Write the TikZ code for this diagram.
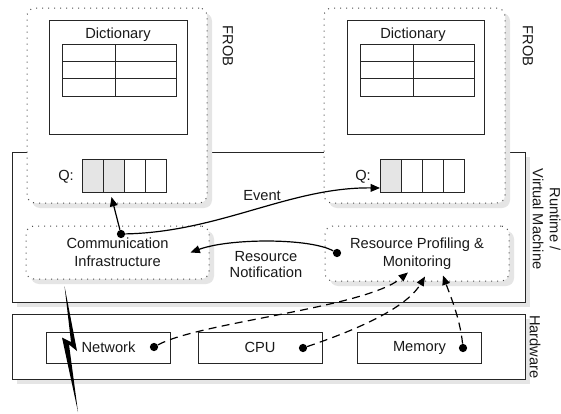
\documentclass[tikz,border=0pt]{standalone}
\usepackage{fontspec}
\setmainfont{Liberation Sans}
\usetikzlibrary{shadows,arrows.meta,calc}

\begin{document}
\begin{tikzpicture}[x=0.75pt,y=-0.75pt,
  every node/.style={font=\fontsize{11}{13.5}\selectfont, text=black!90},
  solidbox/.style={rectangle, draw=black!85, line width=0.75pt, fill=white, inner sep=0pt},
  shadowed/.style={drop shadow={shadow xshift=3.75pt, shadow yshift=-3.75pt, opacity=1, fill=black!10}},
  dotbox/.style={rectangle, draw=black!70, line width=0.75pt, dash pattern=on 0.75pt off 3.75pt,
                 rounded corners=6pt, fill=white, inner sep=0pt},
  hwbox/.style={solidbox, minimum width=93pt, minimum height=23.25pt},
  cell/.style={rectangle, draw=black!85, line width=0.75pt, minimum width=15.75pt,
               minimum height=24.75pt, inner sep=0pt, anchor=north west},
  fullcell/.style={cell, fill=black!10},
  tbl/.style={draw=black!85, line width=0.75pt},
  dotn/.style={circle, fill=black, inner sep=0pt, minimum size=6.2pt},
  arr/.style={-{Triangle[length=7pt,width=5.8pt]}, line width=0.9pt},
  darr/.style={arr, dash pattern=on 6pt off 4pt}
]
\useasboundingbox (0,0) rectangle (561,414);

% layers
\node[solidbox, shadowed, minimum width=384.75pt, minimum height=112.5pt] (runtime) at (268.5,227) {};
\node[solidbox, shadowed, minimum width=384.75pt, minimum height=48.75pt] (hardware) at (268.5,346.5) {};

% two FROBs
\node[dotbox, shadowed, minimum width=135pt, minimum height=146.25pt] (frobL) at (117,105.5) {};
\node[dotbox, shadowed, minimum width=135.75pt, minimum height=146.25pt] (frobR) at (414.5,105.5) {};

% dictionaries
\node[solidbox, minimum width=103.5pt, minimum height=85.5pt] (dictL) at (118,77) {};
\node[solidbox, minimum width=102.75pt, minimum height=85.5pt] (dictR) at (415.5,77) {};
\node (dtL) at (118,35) {Dictionary};
\node (dtR) at (413,35) {Dictionary};
\draw[tbl] (62,44) rectangle (176,96);
\draw[tbl] (62,61.3) -- (176,61.3) (62,78.7) -- (176,78.7) (115,44) -- (115,96);
\draw[tbl] (360,44) rectangle (474,96);
\draw[tbl] (360,61.3) -- (474,61.3) (360,78.7) -- (474,78.7) (413,44) -- (413,96);

% queues
\node (qlabL) at (66,177) {Q:};
\node[fullcell] (qL1) at (82,159) {};
\node[fullcell] (qL2) at (103,159) {};
\node[cell] (qL3) at (124,159) {};
\node[cell] (qL4) at (145,159) {};
\node (qlabR) at (363,177) {Q:};
\node[fullcell] (qR1) at (380,159) {};
\node[cell] (qR2) at (401,159) {};
\node[cell] (qR3) at (422,159) {};
\node[cell] (qR4) at (443,159) {};

% runtime components
\node[dotbox, shadowed, minimum width=137.25pt, minimum height=39.75pt, align=center]
  (comm) at (117.5,252.5) {Communication\\Infrastructure};
\node[dotbox, shadowed, minimum width=138pt, minimum height=41.25pt, align=center]
  (res) at (417,253.5) {Resource Profiling \&\\Monitoring};

% hardware components
\node[hwbox] (net) at (108.5,347.5) {Network};
\node[hwbox] (cpu) at (260,347.5) {CPU};
\node[hwbox] (mem) at (419.5,347.5) {Memory};

% connector sources
\node[dotn] (cdot) at (121,234) {};
\node[dotn] (rdot) at (337,253) {};
\node[dotn] (nd) at (154,347) {};
\node[dotn] (cd) at (303,348) {};
\node[dotn] (md) at (463,348) {};

% connectors
\draw[arr] (cdot) -- ($(qL2.south)+(-2.5,4)$);
\draw[arr] (cdot) .. controls (220,232) and (290,187) .. ($(qR1.south west)+(0,-5)$);
\draw[arr] (rdot) .. controls (310,238) and (230,238) .. ($(comm.east)+(-19,0)$);
\draw[darr] (nd) .. controls (200,322) and (365,308) .. ($(res.south)+(-9,-9)$);
\draw[darr] (cd) .. controls (350,332) and (405,310) .. ($(res.south)+(8,-5)$);
\draw[darr] (md) .. controls (460,318) and (450,295) .. ($(res.south)+(26,-6)$);

\node (evlab) at (262,196) {Event};
\node[align=center, font=\fontsize{11}{12}\selectfont] (rnlab) at (266,265) {Resource\\Notification};

% network link leaving the machine
\fill[black] (64.5,286) -- (77,351) -- (69,344.5) -- (78,412) -- (62,337.5) -- (71,342) -- cycle;

% layer labels
\node[rotate=-90] (frobLlab) at (228,46) {FROB};
\node[rotate=-90] (frobRlab) at (528,46) {FROB};
\node[rotate=-90, align=center, font=\fontsize{11}{12.75}\selectfont] (rtlab) at (546.5,219) {Runtime /\\Virtual Machine};
\node[rotate=-90] (hwlab) at (535,347) {Hardware};
\end{tikzpicture}
\end{document}
